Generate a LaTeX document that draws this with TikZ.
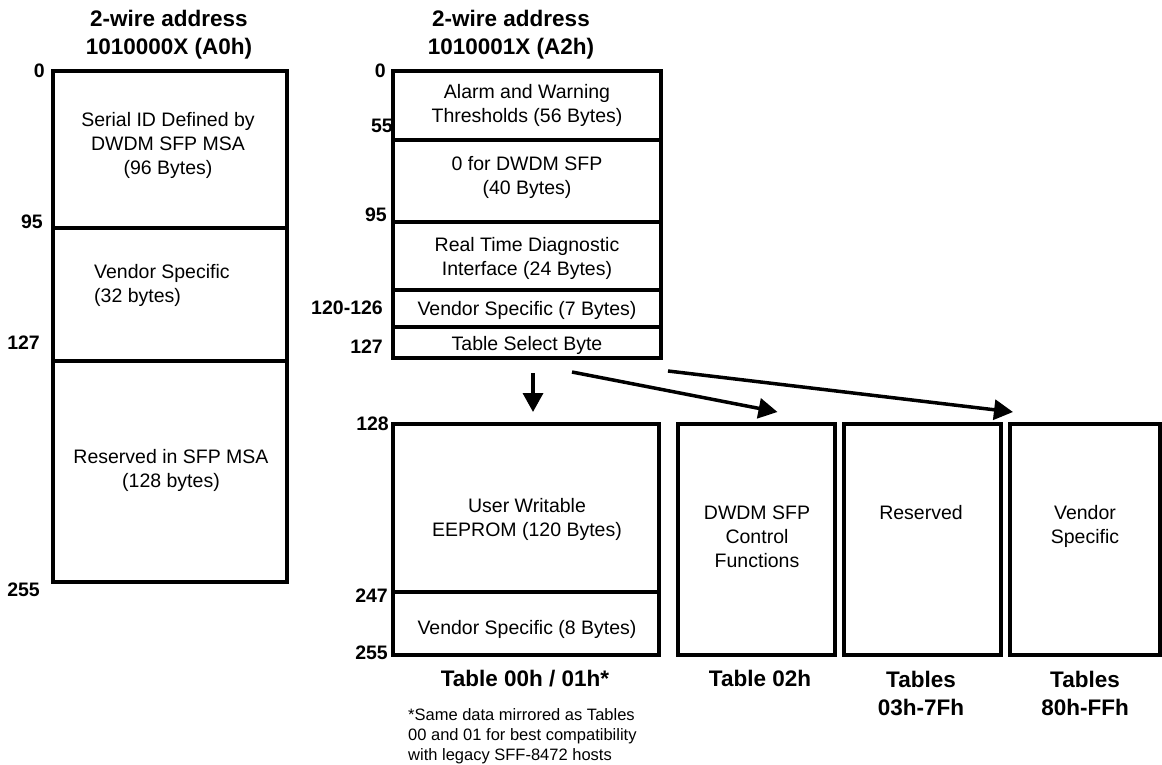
\documentclass[tikz,border=0pt]{standalone}
\usepackage{fontspec}
\setmainfont{Liberation Sans}
\usetikzlibrary{arrows.meta}
\begin{document}
\begin{tikzpicture}[x=1pt,y=-1pt,
  box/.style={draw, line width=4pt, anchor=north west, inner sep=0pt, outer sep=0pt},
  txt/.style={font=\fontsize{19.5}{24}\selectfont, align=center, inner sep=0pt, anchor=base},
  num/.style={font=\fontsize{19.5}{24}\selectfont\bfseries, inner sep=0pt, anchor=base east},
  head/.style={font=\fontsize{22.5}{28}\selectfont\bfseries, align=center, inner sep=0pt, anchor=base},
  foot/.style={font=\fontsize{16.5}{20}\selectfont, align=left, inner sep=0pt, anchor=base west},
  arr/.style={line width=3.5pt, -{Triangle[length=19pt,width=20pt]}}
]
\useasboundingbox (0,0) rectangle (1162,765);
% headings (base = last line)
\node[head] (h1) at (169,55) {2-wire address\\1010000X (A0h)};
\node[head] (h2) at (511,55) {2-wire address\\1010001X (A2h)};
% left map A0h
\node[box, minimum width=234pt, minimum height=157pt] (a0s) at (53,71) {};
\node[box, minimum width=234pt, minimum height=133pt] (a0v) at (53,228) {};
\node[box, minimum width=234pt, minimum height=221pt] (a0r) at (53,361) {};
\node[txt] (a0st) at (168,175) {Serial ID Defined by\\DWDM SFP MSA\\(96 Bytes)};
\node[txt, anchor=base west, align=left] (a0vt) at (94,302) {Vendor Specific\\(32 bytes)};
\node[txt] (a0rt) at (171,487) {Reserved in SFP MSA\\(128 bytes)};
\node[num] (n0a) at (45,78) {0};
\node[num] (n95a) at (43,228) {95};
\node[num] (n127a) at (40,349) {127};
\node[num] (n255a) at (40,596) {255};
% middle map A2h
\node[box, minimum width=268pt, minimum height=69pt] (aw) at (393,71) {};
\node[box, minimum width=268pt, minimum height=82pt] (z40) at (393,140) {};
\node[box, minimum width=268pt, minimum height=68pt] (rt) at (393,222) {};
\node[box, minimum width=268pt, minimum height=37pt] (vs7) at (393,290) {};
\node[box, minimum width=268pt, minimum height=31pt] (ts) at (393,327) {};
\node[txt] (awt) at (527,123) {Alarm and Warning\\Thresholds (56 Bytes)};
\node[txt] (z40t) at (527,194) {0 for DWDM SFP\\(40 Bytes)};
\node[txt] (rtt) at (527,275) {Real Time Diagnostic\\Interface (24 Bytes)};
\node[txt] (vs7t) at (527,315) {Vendor Specific (7 Bytes)};
\node[txt] (tst) at (527,350) {Table Select Byte};
\node[num] (n0b) at (386,78) {0};
\node[num] (n55b) at (393,133) {55};
\node[num] (n95b) at (387,221) {95};
\node[num] (n120b) at (383,314) {120-126};
\node[num] (n127b) at (383,353) {127};
% lower tables
\node[box, minimum width=266pt, minimum height=168pt] (t0) at (393,424) {};
\node[box, minimum width=266pt, minimum height=63pt] (t0v) at (393,592) {};
\node[box, minimum width=157pt, minimum height=231pt] (t2) at (678,424) {};
\node[box, minimum width=157pt, minimum height=231pt] (t3) at (844,424) {};
\node[box, minimum width=150pt, minimum height=231pt] (t4) at (1010,424) {};
\node[txt] (t0t) at (527,536) {User Writable\\EEPROM (120 Bytes)};
\node[txt] (t0vt) at (527,634) {Vendor Specific (8 Bytes)};
\node[txt] (t2t) at (757,567) {DWDM SFP\\Control\\Functions};
\node[txt] (t3t) at (921,519) {Reserved};
\node[txt] (t4t) at (1085,543) {Vendor\\Specific};
\node[num] (n128c) at (389,430) {128};
\node[num] (n247c) at (388,602) {247};
\node[num] (n255c) at (388,659) {255};
% table captions
\node[head] (c0) at (525,686) {Table 00h / 01h*};
\node[head] (c2) at (760,686) {Table 02h};
\node[head] (c3) at (921,715) {Tables\\03h-7Fh};
\node[head] (c4) at (1085,715) {Tables\\80h-FFh};
\node[foot] (fn) at (408,760) {*Same data mirrored as Tables\\00 and 01 for best compatibility\\with legacy SFF-8472 hosts};
% arrows
\draw[arr] ([xshift=6pt,yshift=-15pt]ts.south) -- ([xshift=7pt,yshift=12pt]t0.north);
\draw[arr] ([xshift=45pt,yshift=-14pt]ts.south) -- ([xshift=21pt,yshift=12pt]t2.north);
\draw[arr] ([xshift=141pt,yshift=-13pt]ts.south) -- ([xshift=3pt,yshift=12pt]t4.north west);
\end{tikzpicture}
\end{document}
